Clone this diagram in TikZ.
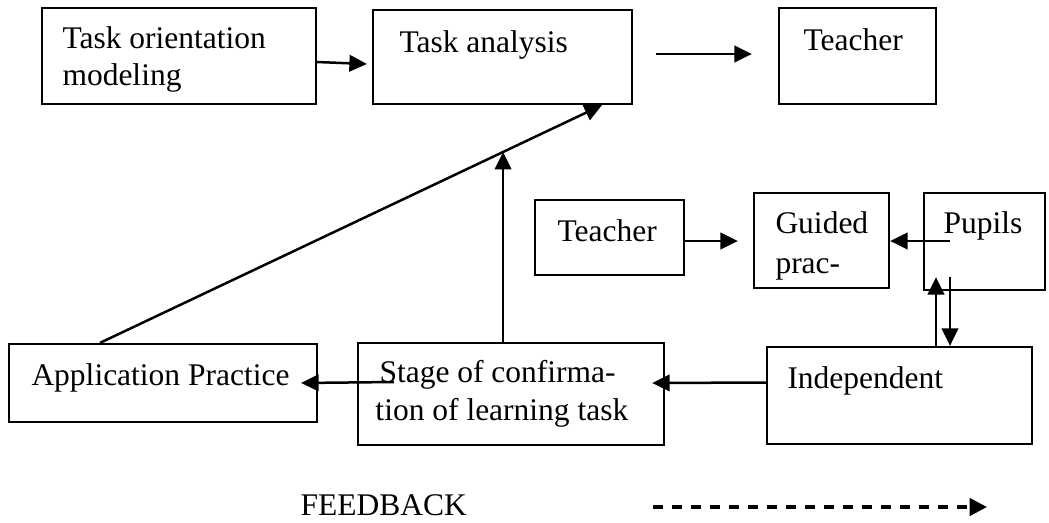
\documentclass[tikz,border=0pt]{standalone}
\usepackage{fontspec}
\setmainfont{Liberation Serif}
\usetikzlibrary{arrows.meta,calc,fit}

\tikzset{
  box/.style={draw, line width=0.9pt, inner sep=0pt},
  txt/.style={anchor=base west, inner sep=0pt, font=\fontsize{12.6}{15}\selectfont},
  arr/.style={line width=1pt, -{Triangle[length=7pt,width=6.6pt]}},
  fbarr/.style={line width=1.3pt, dash pattern=on 4pt off 3.6pt, -{Triangle[length=7pt,width=7pt]}}
}

\begin{document}
\begin{tikzpicture}[x=0.4pt, y=-0.4pt]
\useasboundingbox (0,0) rectangle (1049,522);

\node[box, fit={(42,8) (316,104)}] (orient) {};
\node[box, fit={(373,10) (632,104)}] (analysis) {};
\node[box, fit={(779,8) (936,104)}] (teachtop) {};
\node[box, fit={(535,200) (684,275)}] (teachlow) {};
\node[box, fit={(754,193) (889,288)}] (guided) {};
\node[box, fit={(924,193) (1045,290)}] (pupils) {};
\node[box, fit={(767,347) (1032,444)}] (indep) {};
\node[box, fit={(358,343) (664,445)}] (stage) {};
\node[box, fit={(9,344) (317,422)}] (appl) {};

\node[txt] (orient1) at (62,48) {Task orientation};
\node[txt] (orient2) at (62,85) {modeling};
\node[txt] (analysist) at (399,52) {Task analysis};
\node[txt] (teachtopt) at (803,50) {Teacher};
\node[txt] (teachlowt) at (557,241) {Teacher};
\node[txt] (guided1) at (775,233) {Guided};
\node[txt] (guided2) at (775,273) {prac-};
\node[txt] (pupilst) at (943,233) {Pupils};
\node[txt] (indept) at (787,388) {Independent};
\node[txt] (stage1) at (379,382) {Stage of confirma-};
\node[txt] (stage2) at (375,420) {tion of learning task};
\node[txt] (applt) at (31,385) {Application Practice};
\node[txt] (fb) at (300,515) {FEEDBACK};

\draw[arr] ($(orient.east)+(0,6)$) -- ($(analysis.west)+(-5,7)$);
\draw[arr] ($(analysis.east)+(23,-3)$) -- ($(teachtop.west)+(-26,-2)$);
\draw[arr] ($(teachlow.east)+(0,3.5)$) -- ($(guided.west)+(-15,0.5)$);
\draw[arr] ($(pupils.west)+(27,-0.5)$) -- ($(guided.east)+(0,0.5)$);
\draw[arr] ($(indep.north)+(36.5,0)$) -- ($(pupils.south)+(-48.5,-14)$);
\draw[arr] ($(pupils.south)+(-34.5,-14)$) -- ($(indep.north)+(50.5,0)$);
\draw[arr] ($(indep.west)+(0,-13)$) -- ($(stage.east)+(-13,-11)$);
\draw[arr] ($(stage.west)+(37,-12)$) -- ($(appl.east)+(-17,0)$);

\path ($(appl.north)+(-63,0)$) coordinate (dstart) -- ($(analysis.south)+(99.5,0)$) coordinate (dend) coordinate[pos=0.803] (dmid);
\draw[arr] (dstart) -- (dend);
\draw[arr] (dmid |- stage.north) -- (dmid);

\coordinate (fbstart) at (653,507);
\draw[fbarr] (fbstart) -- ++(334,0);
\end{tikzpicture}
\end{document}
